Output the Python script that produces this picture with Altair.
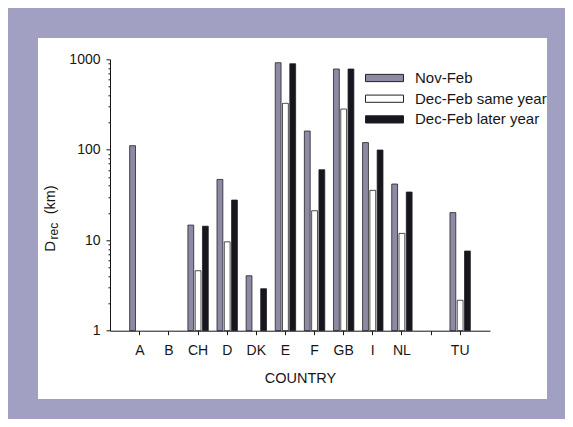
import altair as alt
import pandas as pd

countries = ["A", "B", "CH", "D", "DK", "E", "F", "GB", "I", "NL", " ", "TU"]
series = ["Nov-Feb", "Dec-Feb same year", "Dec-Feb later year"]
nov_feb = [111, None, 14.7, 47, 4.05, 917, 161, 781, 120, 41.8, None, 20.2]
dec_same = [None, None, 4.6, 9.6, None, 326, 21.2, 282, 35.6, 11.9, None, 2.17]
dec_later = [None, None, 14.3, 27.8, 2.91, 893, 60.2, 781, 99.4, 34.1, None, 7.6]
y_ticks = [1, 2, 3, 4, 5, 6, 7, 8, 9, 10, 20, 30, 40, 50, 60, 70, 80, 90,
           100, 200, 300, 400, 500, 600, 700, 800, 900, 1000]
major = [1, 10, 100, 1000]

colors = ["#8e8aa6", "#ffffff", "#16161e"]
FONT = "Liberation Sans"
INK = "#161616"

rows = []
for s, vals in zip(series, [nov_feb, dec_same, dec_later]):
    for c, v in zip(countries, vals):
        if v is not None:
            rows.append({"country": c, "series": s, "value": v})
df = pd.DataFrame(rows)

major_test = "indexof([1,10,100,1000], datum.value) >= 0"

bars = alt.Chart(df).mark_bar(stroke="#222222", strokeWidth=0.8).encode(
    x=alt.X("country:N",
            scale=alt.Scale(domain=countries, paddingInner=0.3, paddingOuter=0.675),
            axis=alt.Axis(title="COUNTRY", labelAngle=0, labelFontSize=14, labelFont=FONT,
                          labelColor=INK, labelPadding=9, tickSize=4, tickColor=INK,
                          domainColor=INK, titleFont=FONT, titleFontSize=14.5,
                          titleFontWeight="normal", titleColor=INK, titlePadding=14,
                          zindex=1)),
    xOffset=alt.XOffset("series:N", scale=alt.Scale(domain=series, paddingInner=0.2)),
    y=alt.Y("value:Q",
            scale=alt.Scale(type="log", domain=[1, 1000], nice=False),
            axis=alt.Axis(title=None, values=y_ticks, format="d",
                          labelExpr=f"{major_test} ? datum.label : ''",
                          tickSize={"condition": {"test": major_test, "value": 4}, "value": 2},
                          labelPadding=6, labelFontSize=14, labelFont=FONT, labelColor=INK,
                          tickColor=INK, domainColor=INK, grid=False, zindex=1)),
    y2=alt.datum(1),
    fill=alt.Fill("series:N",
                  scale=alt.Scale(domain=series, range=colors),
                  legend=alt.Legend(orient="none", legendX=255, legendY=8.7, title=None,
                                    padding=0, symbolType="M-1,-0.19H1V0.19H-1Z",
                                    symbolSize=1444, symbolStrokeColor="#222222",
                                    symbolStrokeWidth=1, clipHeight=20, rowPadding=0.7,
                                    labelOffset=11, labelFontSize=15, labelFont=FONT,
                                    labelColor=INK, labelLimit=300)),
)

one = alt.Data(values=[{}])
panel = alt.Chart(one).mark_rect(color="white").encode(
    x=alt.value(-72), x2=alt.value(437), y=alt.value(-21.3), y2=alt.value(339.7)
)

t_d = alt.Chart(one).mark_text(text="D", angle=270, align="left", baseline="alphabetic",
                               fontSize=15, font=FONT, color=INK).encode(
    x=alt.value(-55), y=alt.value(192.4))
t_rec = alt.Chart(one).mark_text(text="rec", angle=270, align="left", baseline="alphabetic",
                                 fontSize=12, font=FONT, color=INK).encode(
    x=alt.value(-52.5), y=alt.value(180.2))
t_km = alt.Chart(one).mark_text(text="(km)", angle=270, align="left", baseline="alphabetic",
                                fontSize=14.5, font=FONT, color=INK).encode(
    x=alt.value(-55.5), y=alt.value(155))

chart = alt.layer(panel, bars, t_d, t_rec, t_km).properties(
    width=380, height=271.4,
    autosize=alt.AutoSizeParams(type="none"),
    padding={"left": 102, "top": 51.3, "right": 75, "bottom": 88.3},
    background="#a1a0c3",
).configure_view(stroke=None)

chart.save("out.html", embed_options={"renderer": "svg", "actions": False})
